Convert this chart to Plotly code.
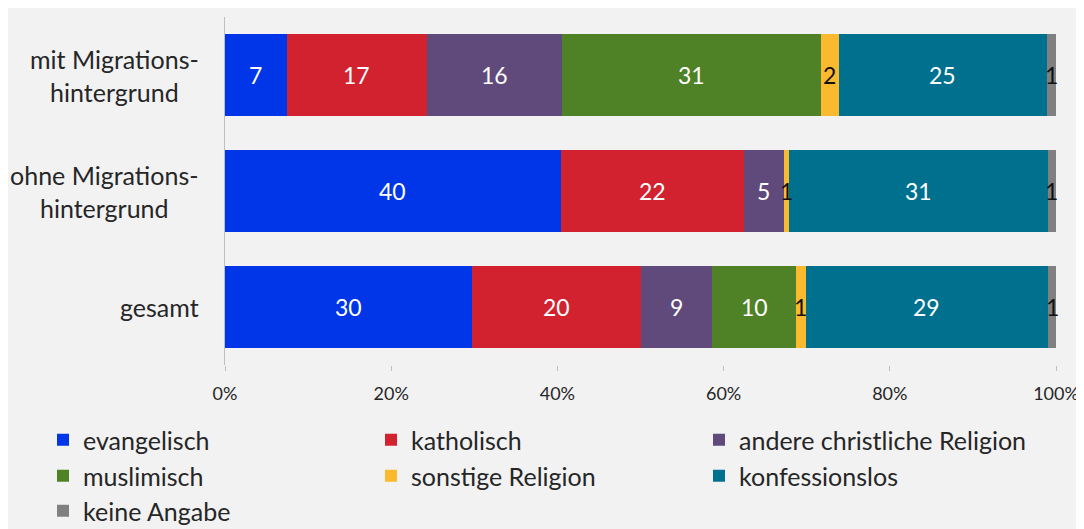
import plotly.graph_objects as go

categories = ["mit Migrationshintergrund", "ohne Migrationshintergrund", "gesamt"]
tick_labels = ["mit Migrations-<br>hintergrund", "ohne Migrations-<br>hintergrund", "gesamt"]

series_names = ["evangelisch", "katholisch", "andere christliche Religion",
                "muslimisch", "sonstige Religion", "konfessionslos", "keine Angabe"]

evangelisch = [7.42, 40.41, 29.69]
katholisch = [16.86, 21.99, 20.39]
andere_christlich = [16.33, 4.89, 8.55]
muslimisch = [31.14, 0.0, 10.12]
sonstige = [2.08, 0.52, 1.12]
konfessionslos = [25.08, 31.17, 29.17]
keine_angabe = [1.09, 1.01, 0.96]

x_tick_values = [0, 20, 40, 60, 80, 100]
x_tick_labels = ["0%", "20%", "40%", "60%", "80%", "100%"]

series_values = [evangelisch, katholisch, andere_christlich, muslimisch,
                 sonstige, konfessionslos, keine_angabe]

colors = ["#0036e8", "#d3222f", "#604a7b", "#4f8226", "#fbb92f", "#00708f", "#808080"]
label_colors = ["white", "white", "white", "white", "#111111", "white", "#111111"]
legend_ids = ["legend", "legend", "legend", "legend2", "legend2", "legend2", "legend3"]

FONT = "Lato, Carlito, 'Open Sans', sans-serif"

fig = go.Figure()
for name, vals, col, lg in zip(series_names, series_values, colors, legend_ids):
    fig.add_trace(go.Bar(
        y=categories, x=vals, name=name, orientation="h",
        marker=dict(color=col, line=dict(width=0)),
        legend=lg, hoverinfo="name+x",
    ))

annotations = []
# data labels at segment centres
cum = [0.0] * len(categories)
for vals, lc in zip(series_values, label_colors):
    for i, v in enumerate(vals):
        if v > 0:
            annotations.append(dict(
                x=cum[i] + v / 2, y=categories[i], xref="x", yref="y",
                text=str(int(round(v))), showarrow=False,
                font=dict(family=FONT, size=23, color=lc),
            ))
        cum[i] += v

# category labels (centred multi-line, right-anchored)
for cat, lab in zip(categories, tick_labels):
    annotations.append(dict(
        x=0, y=cat, xref="paper", yref="y", xanchor="right", yanchor="middle",
        xshift=-24, text=lab, showarrow=False, align="center",
        font=dict(family=FONT, size=25, color="#262626"),
    ))

fig.update_layout(
    width=1076, height=521,
    barmode="stack", bargap=0.3,
    paper_bgcolor="#f2f2f2", plot_bgcolor="#f2f2f2",
    margin=dict(l=217, r=28, t=9, b=164, autoexpand=False),
    font=dict(family=FONT, size=18, color="#262626"),
    xaxis=dict(range=[0, 100], tickmode="array", tickvals=x_tick_values,
               ticktext=x_tick_labels,
               showgrid=False, zeroline=False, showline=False,
               ticks="outside", ticklen=5, tickcolor="#bfbfbf",
               ticklabelstandoff=7,
               tickfont=dict(family=FONT, size=18, color="#262626")),
    yaxis=dict(autorange="reversed", showticklabels=False, showgrid=False,
               showline=True, linecolor="#bfbfbf", linewidth=1, zeroline=False),
    annotations=annotations,
    showlegend=True,
)

legend_common = dict(orientation="h", xanchor="left", yanchor="middle",
                     x=-0.219, entrywidth=283, entrywidthmode="pixels",
                     bgcolor="rgba(0,0,0,0)", traceorder="normal",
                     font=dict(family=FONT, size=25, color="#262626"))
fig.update_layout(
    legend=dict(**legend_common, y=-75 / 348),
    legend2=dict(**legend_common, y=-111 / 348),
    legend3=dict(**legend_common, y=-146 / 348),
)

fig.write_html("out.html")
